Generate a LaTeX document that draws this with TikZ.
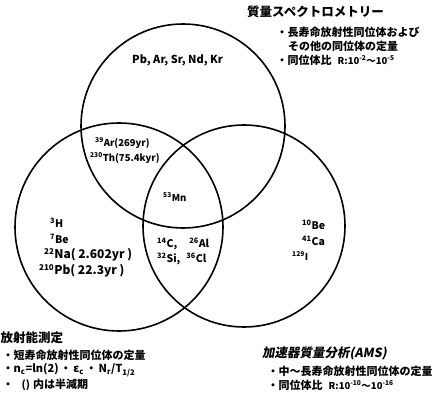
\documentclass[tikz,border=0pt]{standalone}
\usepackage{fontspec}
\setmainfont{Noto Sans CJK JP}
\newfontfamily\jpsl{Noto Sans CJK JP}[FakeSlant=0.18]
\begin{document}
\begin{tikzpicture}[x=1pt,y=-1pt,
  vc/.style={circle, draw, line width=1.6pt, inner sep=0pt},
  jtl/.style={inner sep=0pt, anchor=west, font=\bfseries\fontsize{12.5}{14}\selectfont},
  jln/.style={inner sep=0pt, anchor=west, font=\bfseries\fontsize{11}{13}\selectfont},
  iso/.style={inner sep=0pt, anchor=west, font=\bfseries\fontsize{10.5}{12}\selectfont},
  isos/.style={inner sep=0pt, anchor=west, font=\bfseries\fontsize{9.5}{11}\selectfont},
  isob/.style={inner sep=0pt, anchor=west, font=\bfseries\fontsize{12}{14}\selectfont},
]
\useasboundingbox (0,0) rectangle (432,396);
\fill[white] (0,0) rectangle (432,396);
\clip (0,0) rectangle (432,396);
% circles
\node[vc, minimum size=204pt] (ms) at (183,126) {};
\node[vc, minimum size=208pt] (rad) at (119,227) {};
\node[vc, minimum size=202pt] (ams) at (244,226) {};
% mass spectrometry block
\node[jtl] (mst) at (247,12) {質量スペクトロメトリー};
\node[jln] (ms1) at (276.5,32) {・長寿命放射性同位体および};
\node[jln] (ms2) at (288,46) {その他の同位体の定量};
\node[jln] (ms3) at (276.5,60) {・同位体比\hspace{6pt}{\fontsize{9.5}{11}\selectfont R:10\textsuperscript{-2}〜10\textsuperscript{-5}}};
% region labels
\node[iso, font=\bfseries\fontsize{11}{13}\selectfont] (pb) at (132,60) {Pb, Ar, Sr, Nd, Kr};
\node[isos] (ar) at (95,143) {\textsuperscript{39}Ar(269yr)};
\node[isos] (th) at (90,158) {\textsuperscript{230}Th(75.4kyr)};
\node[isos] (mn) at (163,197) {\textsuperscript{53}Mn};
\node[iso] (h3) at (50,223) {\textsuperscript{3}H};
\node[iso] (be7) at (50,239) {\textsuperscript{7}Be};
\node[isob] (na) at (44,255) {\textsuperscript{22}Na( 2.602yr )};
\node[isob] (pb210) at (39,271) {\textsuperscript{210}Pb( 22.3yr )};
\node[iso] (c14) at (157,244) {\textsuperscript{14}C,\hspace{12pt}\textsuperscript{26}Al};
\node[iso] (si) at (157,259) {\textsuperscript{32}Si,\hspace{6pt}\textsuperscript{36}Cl};
\node[iso] (be10) at (302,225) {\textsuperscript{10}Be};
\node[iso] (ca) at (302,241) {\textsuperscript{41}Ca};
\node[isos] (i129) at (292,256) {\textsuperscript{129}I};
% radioactivity block
\node[jtl] (radt) at (0.5,338) {放射能測定};
\node[jln] (rad1) at (2.5,355) {・短寿命放射性同位体の定量};
\node[jln] (rad2) at (2.5,370) {・{\fontsize{11}{13}\selectfont n\textsubscript{c}=ln(2)\,・\,ε\textsubscript{c}\,・\,N\textsubscript{r}/T\textsubscript{1/2}}};
\node[jln] (rad3) at (2.5,385) {・\hspace{8pt}{\fontsize{10.5}{12}\selectfont ()}\hspace{3pt}内は半減期};
% AMS block
\node[jtl, font=\jpsl\bfseries\fontsize{12.5}{14}\selectfont] (amst) at (262,353) {加速器質量分析(AMS)};
\node[jln] (ams1) at (267.5,371) {・中〜長寿命放射性同位体の定量};
\node[jln] (ams2) at (267.5,385) {・同位体比\hspace{6pt}{\fontsize{9.5}{11}\selectfont R:10\textsuperscript{-10}〜10\textsuperscript{-16}}};
\end{tikzpicture}
\end{document}
